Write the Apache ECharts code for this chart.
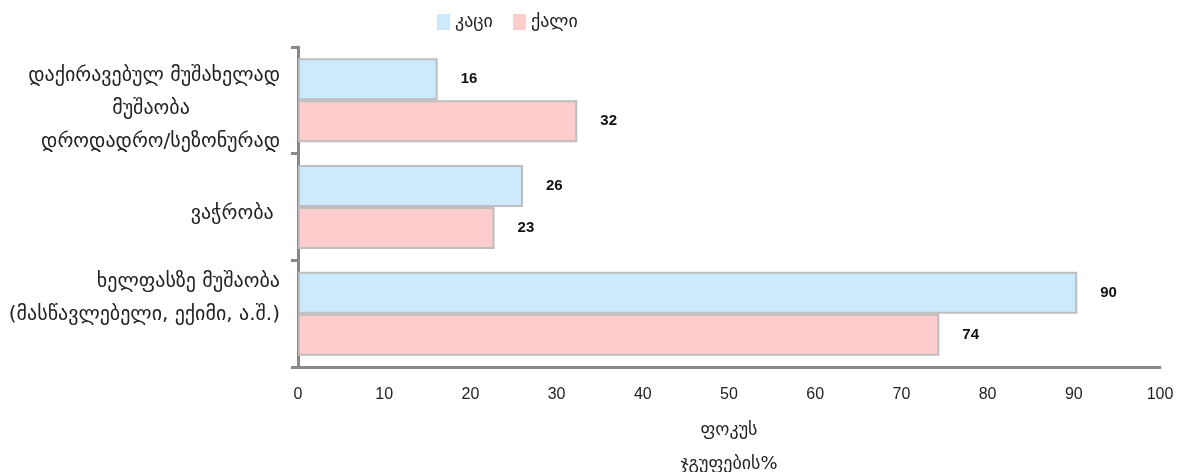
<!DOCTYPE html>
<html>
<head>
<meta charset="utf-8">
<script src="https://cdn.jsdelivr.net/npm/echarts@6/dist/echarts.min.js"></script>
<style>html,body{margin:0;padding:0;background:#fff}#c{width:1184px;height:472px}</style>
</head>
<body>
<div id="c"></div>
<script>
const categories = [
  "დაქირავებულ მუშახელად\n{c|მუშაობა}\nდროდადრო/სეზონურად",
  "ვაჭრობა ",
  "ხელფასზე მუშაობა\n(მასწავლებელი, ექიმი, ა.შ.)"
];
const seriesNames = ["კაცი", "ქალი"];
const menValues = [16.2, 26.1, 90.4];
const womenValues = [32.4, 22.8, 74.4];
const xTicks = { min: 0, max: 100, interval: 10 };
const xAxisName = "ფოკუს\nჯგუფების%";

// per-category label nudges (style only)
const labelPadding = [[16, 0, 0, 0], [14, 0, 0, 0], [0, 0, 30, 0]];

const chart = echarts.init(document.getElementById('c'));
const geo = "'DejaVu Sans', sans-serif";
const barBorder = { borderColor: '#bdbdbd', borderWidth: 2 };
const labelStyle = {
  show: true, position: 'right', distance: 23,
  fontFamily: 'Liberation Sans, Arial, sans-serif', fontWeight: 'bold', fontSize: 15, color: '#111',
  formatter: p => Math.round(p.value)
};
chart.setOption({
  animation: false,
  legend: {
    top: 8, left: 432,
    itemWidth: 13, itemHeight: 16, itemGap: 20,
    icon: 'rect',
    itemStyle: { borderWidth: 0 },
    textStyle: { fontFamily: geo, fontSize: 18, color: '#222' },
    data: seriesNames
  },
  grid: { left: 298, right: 24, top: 47, bottom: 105, containLabel: false, outerBoundsMode: 'none' },
  xAxis: {
    type: 'value', min: xTicks.min, max: xTicks.max, interval: xTicks.interval,
    axisLine: { show: true, lineStyle: { color: '#888', width: 3 } },
    axisTick: { show: false },
    splitLine: { show: false },
    axisLabel: { fontFamily: 'Liberation Sans, Arial, sans-serif', fontSize: 16, color: '#222', margin: 20 },
    name: xAxisName, nameLocation: 'middle', nameGap: 46,
    nameTextStyle: { fontFamily: geo, fontSize: 18, color: '#222', lineHeight: 34, verticalAlign: 'top' }
  },
  yAxis: {
    type: 'category',
    data: categories.map((c, i) => ({ value: c, textStyle: { padding: labelPadding[i] } })),
    inverse: true,
    axisLine: { show: true, lineStyle: { color: '#888', width: 3 } },
    axisTick: { show: true, length: 7, lineStyle: { color: '#888', width: 3 } },
    axisLabel: {
      fontFamily: geo, fontSize: 20, color: '#222', lineHeight: 33, margin: 18, align: 'right',
      rich: { c: { width: 258, align: 'center', fontFamily: geo, fontSize: 20, color: '#222', lineHeight: 33 } }
    }
  },
  series: [
    { name: seriesNames[0], type: 'bar', data: menValues, barWidth: 42, barGap: '0%',
      itemStyle: Object.assign({ color: '#cdeafd' }, barBorder), label: labelStyle },
    { name: seriesNames[1], type: 'bar', data: womenValues, barWidth: 42, barGap: '0%',
      itemStyle: Object.assign({ color: '#fdcccc' }, barBorder), label: labelStyle }
  ]
});
</script>
</body>
</html>
